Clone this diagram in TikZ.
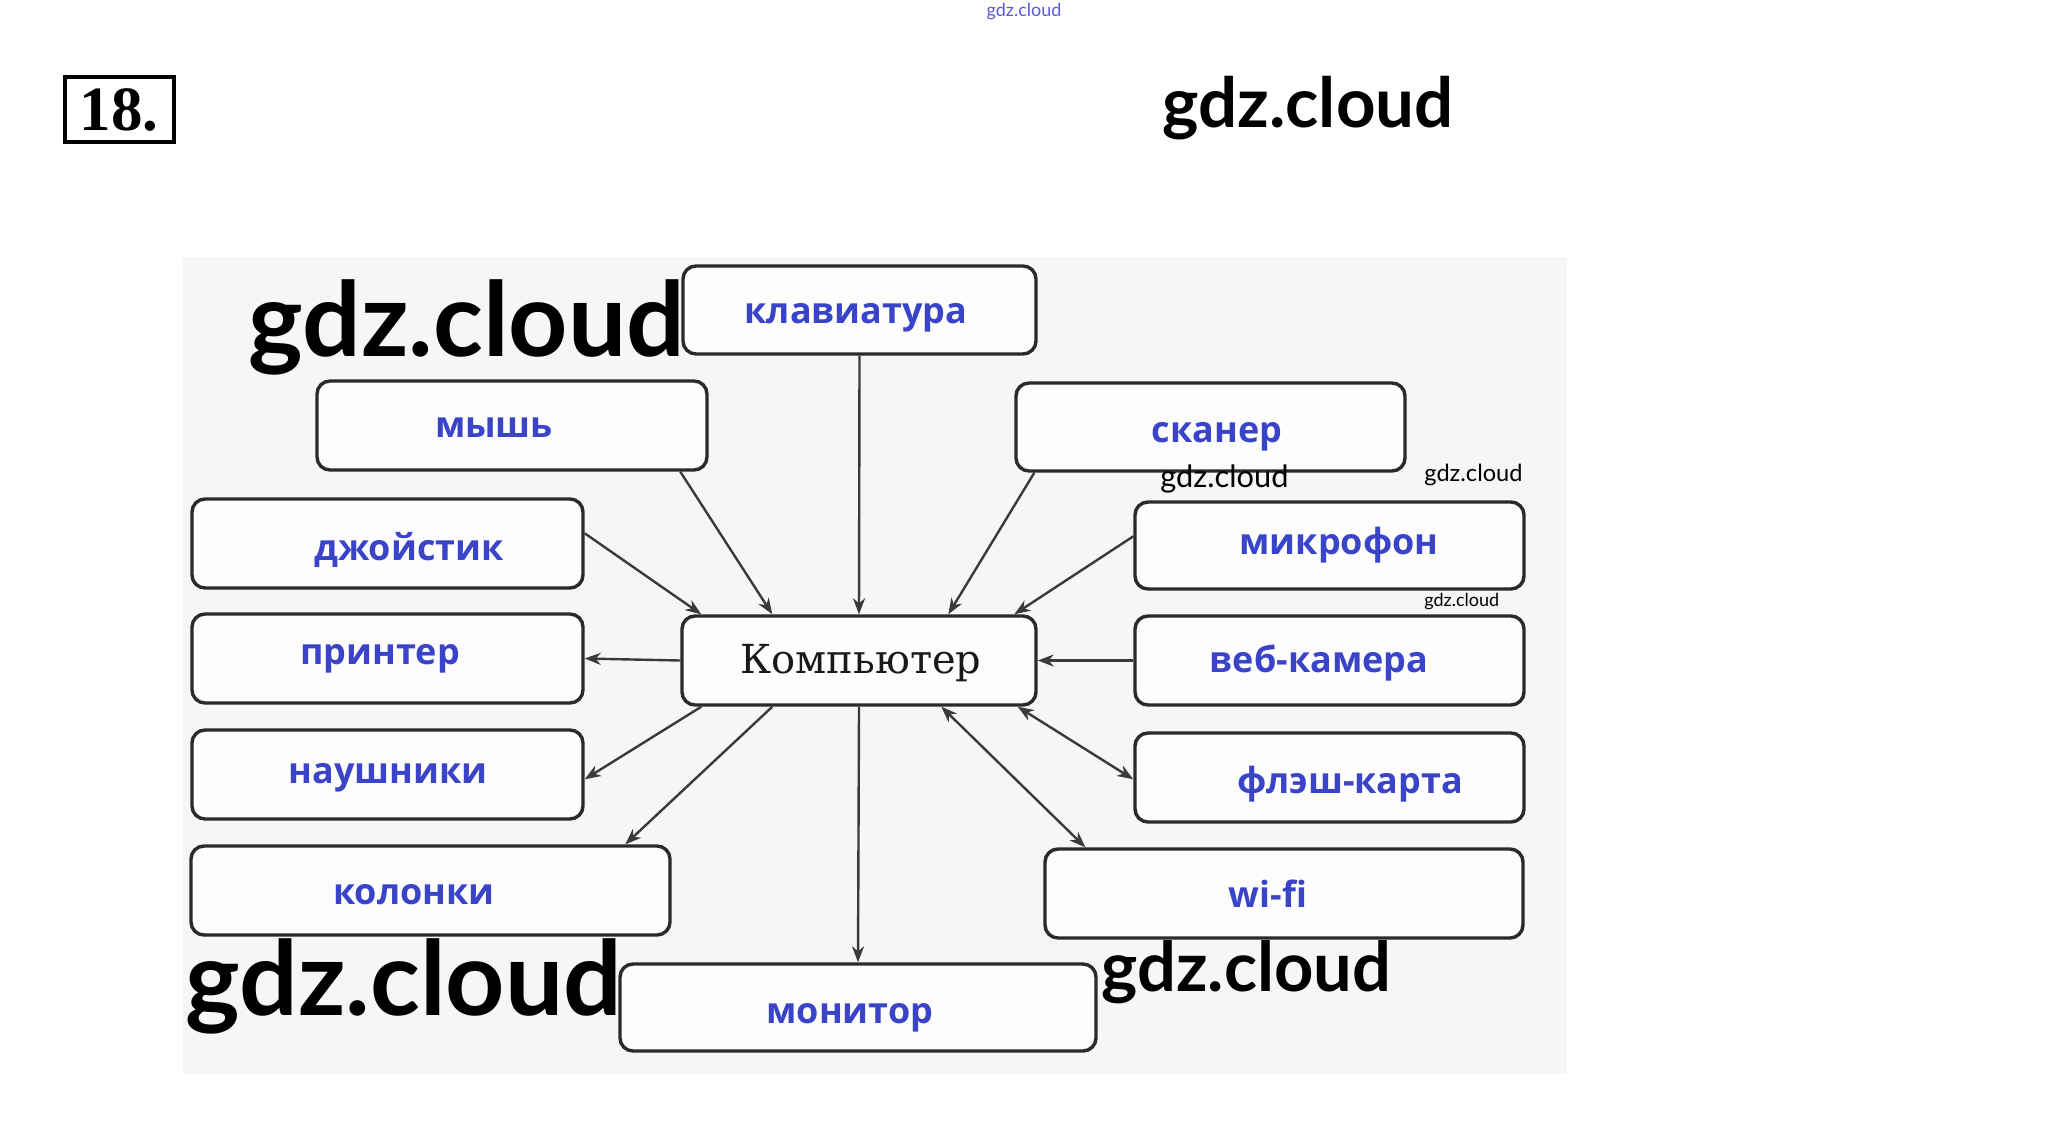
\documentclass[tikz,border=0pt]{standalone}
\usepackage{fontspec}
\usetikzlibrary{arrows.meta,calc,fit}
\newfontfamily\lblfont{Open Sans}
\newfontfamily\wmfont{Lato}
\newfontfamily\compfont{DejaVu Serif}
\newfontfamily\numfont{Liberation Serif}
\definecolor{lblblue}{HTML}{3A44C8}
\definecolor{boxcol}{HTML}{2A2A2A}
\definecolor{boxfill}{HTML}{FDFDFD}
\definecolor{bggray}{HTML}{F6F6F6}
\definecolor{arrcol}{HTML}{3A3A3A}
\definecolor{wmblue}{HTML}{5A5AD8}
\begin{document}
\begin{tikzpicture}[x=0.5pt,y=-0.5pt,
  devbox/.style={draw=boxcol, line width=1.7pt, rounded corners=6.5pt, fill=boxfill, inner sep=0pt},
  lbl/.style={font=\lblfont\bfseries\fontsize{18}{20}\selectfont, text=lblblue, anchor=base, inner sep=0pt},
  arr/.style={draw=arrcol, line width=1.2pt, -{Stealth[length=8pt,width=6pt,inset=2.5pt]}},
  darr/.style={draw=arrcol, line width=1.2pt, {Stealth[length=8pt,width=6pt,inset=2.5pt]}-{Stealth[length=8pt,width=6pt,inset=2.5pt]}},
  wm/.style={font=\wmfont, anchor=base west, inner sep=0pt, text=black}]
\useasboundingbox (0,0) rectangle (2048,1120);
\fill[white] (0,0) rectangle (2048,1120);
\fill[bggray] (183,257) rectangle (1567,1074);

% number box
\node[draw=black, line width=2.2pt, fit={(65,77) (174,142)}, inner sep=0pt] (numbox) {};
\node[anchor=base, inner sep=0pt, font=\numfont\bfseries\fontsize{31.5}{32}\selectfont] (num) at (119,130) {18.};

% boxes
\node[devbox, fit={(683,266) (1036,354)}] (kbd) {};
\node[devbox, fit={(317,381) (707,470)}] (mouse) {};
\node[devbox, fit={(1016,383) (1405,471)}] (scan) {};
\node[devbox, fit={(192,499) (583,588)}] (joy) {};
\node[devbox, fit={(1135,502) (1524,589)}] (mic) {};
\node[devbox, fit={(682,616) (1036,705)}] (comp) {};
\node[devbox, fit={(192,614) (583,703)}] (prn) {};
\node[devbox, fit={(1135,616) (1524,705)}] (cam) {};
\node[devbox, fit={(192,730) (583,819)}] (head) {};
\node[devbox, fit={(1135,733) (1524,822)}] (flash) {};
\node[devbox, fit={(191,846) (670,935)}] (spk) {};
\node[devbox, fit={(1045,849) (1523,938)}] (wifi) {};
\node[devbox, fit={(620,964) (1096,1051)}] (mon) {};

% labels
\node[lbl] (tkbd) at (856,323) {клавиатура};
\node[lbl] (tmouse) at (494,437) {мышь};
\node[lbl] (tscan) at (1217,442) {сканер};
\node[lbl] (tjoy) at (409,560) {джойстик};
\node[lbl] (tmic) at (1339,554) {микрофон};
\node[anchor=base, inner sep=0pt, font=\compfont\fontsize{20}{22}\selectfont, text=black!90] (tcomp) at (861,673) {Компьютер};
\node[lbl] (tprn) at (380,664) {принтер};
\node[lbl] (tcam) at (1319,672) {веб-камера};
\node[lbl] (thead) at (388,783) {наушники};
\node[lbl] (tflash) at (1350,793) {флэш-карта};
\node[lbl] (tspk) at (414,904) {колонки};
\node[lbl] (twifi) at (1268,907) {wi-fi};
\node[lbl] (tmon) at (850,1023) {монитор};

% connectors
\draw[arr] (kbd.south) -- (comp.north);
\draw[arr] ($(mouse.south west)+(365,0)$) -- ($(comp.north west)+(92,0)$);
\draw[arr] ($(joy.north east)+(0,36)$) -- ($(comp.north west)+(21,0)$);
\draw[arr] ($(scan.south west)+(20,0)$) -- ($(comp.north west)+(268,0)$);
\draw[arr] ($(mic.north west)+(0,36)$) -- ($(comp.north west)+(334,0)$);
\draw[arr] (cam.west) -- (comp.east);
\draw[arr] (comp.west) -- (prn.east);
\draw[arr] ($(comp.south west)+(21,0)$) -- ($(head.north east)+(0,51)$);
\draw[arr] ($(comp.south west)+(92,0)$) -- ($(spk.north west)+(436,0)$);
\draw[arr] (comp.south) -- (mon.north);
\draw[darr] ($(comp.south east)+(-20,0)$) -- ($(flash.north west)+(0,48)$);
\draw[darr] ($(comp.south west)+(261,0)$) -- ($(wifi.north west)+(42,0)$);

% watermarks
\node[anchor=base, inner sep=0pt, font=\wmfont\fontsize{9}{10}\selectfont, text=wmblue] (w0) at (1024,16) {gdz.cloud};
\node[wm, font=\wmfont\bfseries\fontsize{34.5}{35}\selectfont] (w1) at (1162,127) {gdz.cloud};
\node[wm, font=\wmfont\bfseries\fontsize{51.7}{52}\selectfont] (w2) at (248,356) {gdz.cloud};
\node[wm, font=\wmfont\bfseries\fontsize{51.7}{52}\selectfont] (w3) at (185,1015) {gdz.cloud};
\node[wm, font=\wmfont\bfseries\fontsize{34.3}{35}\selectfont] (w4) at (1101,991) {gdz.cloud};
\node[wm, font=\wmfont\fontsize{15.4}{16}\selectfont] (w5) at (1160,487) {gdz.cloud};
\node[wm, font=\wmfont\fontsize{11.8}{12}\selectfont] (w6) at (1424,481) {gdz.cloud};
\node[wm, font=\wmfont\fontsize{9}{10}\selectfont] (w7) at (1424,606) {gdz.cloud};
\end{tikzpicture}
\end{document}
